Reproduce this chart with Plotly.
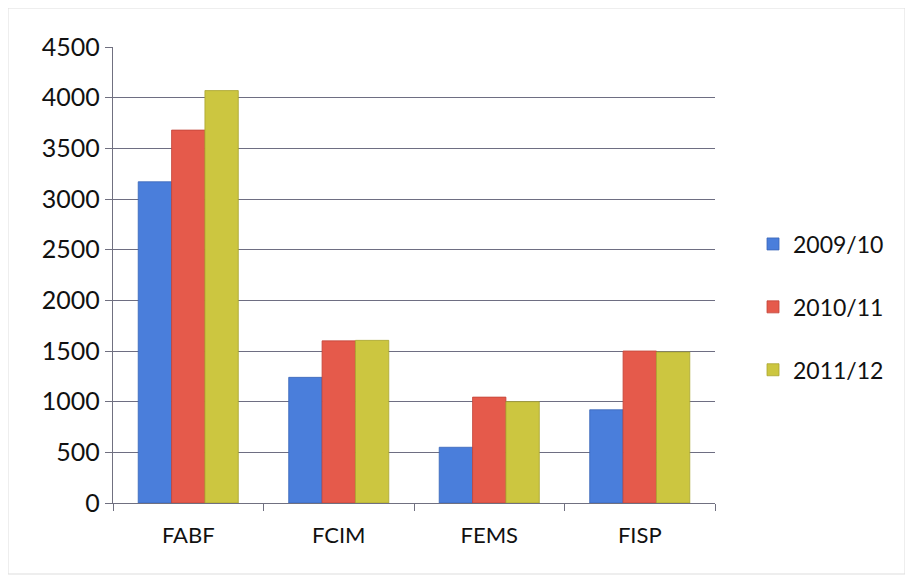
import plotly.graph_objects as go

categories = ["FABF", "FCIM", "FEMS", "FISP"]
series_names = ["2009/10", "2010/11", "2011/12"]
v2009 = [3170, 1240, 550, 920]
v2010 = [3680, 1600, 1045, 1500]
v2011 = [4070, 1605, 1000, 1490]
y_ticks = [0, 500, 1000, 1500, 2000, 2500, 3000, 3500, 4000, 4500]

colors = ["#4A7EDB", "#E55A4B", "#CCC640"]
line_colors = ["#3A66B8", "#C24438", "#A9A430"]

fig = go.Figure()
for name, vals, c, lc in zip(series_names, [v2009, v2010, v2011], colors, line_colors):
    fig.add_trace(go.Bar(x=categories, y=vals, name=name, legendgroup=name,
                         marker=dict(color=c, line=dict(color=lc, width=0.8))))

W, H = 913, 580
L, R, T, B = 105, 206, 39, 85
pw, ph = W - L - R, H - T - B
off = 8  # page offset

fig.update_layout(
    width=W, height=H,
    margin=dict(l=L, r=R, t=T, b=B),
    paper_bgcolor="white", plot_bgcolor="white",
    barmode="group", bargap=0.335, bargroupgap=0,
    font=dict(family="Lato, Open Sans, sans-serif", color="#111111"),
    legend=dict(x=(753 - off - L) / pw, y=(H - B - (307 - off)) / ph, xanchor="left", yanchor="middle",
                font=dict(size=23), tracegroupgap=30, itemwidth=30,
                bgcolor="rgba(0,0,0,0)"),
    xaxis=dict(type="category", showline=True, linecolor="#707080", linewidth=1.3,
               ticks="outside", tickson="boundaries", ticklen=7, tickcolor="#707080",
               tickfont=dict(size=22), ticklabelstandoff=12, showgrid=False),
    yaxis=dict(range=[0, 4500], tickvals=y_ticks, showline=True, linecolor="#707080",
               linewidth=1.3, ticks="outside", ticklen=7, tickcolor="#707080",
               gridcolor="#6E6E82", gridwidth=1.3, tickfont=dict(size=25),
               zeroline=False),
)
fig.add_shape(type="rect", xref="paper", yref="paper",
              x0=(8 - off - L) / pw, x1=(905 - off - L) / pw,
              y0=(H - B - (574 - off)) / ph, y1=(H - B - (8 - off)) / ph,
              line=dict(color="#DDDDDD", width=1), layer="below")

fig.write_html("out.html")
